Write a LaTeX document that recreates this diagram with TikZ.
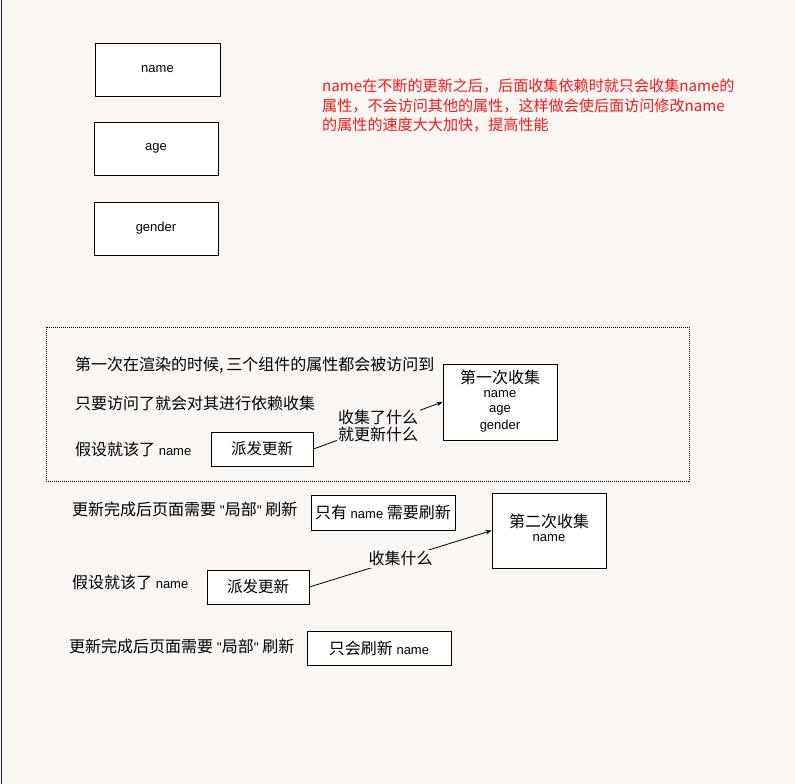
\documentclass[tikz,border=0pt]{standalone}
\usepackage{fontspec}
\setmainfont{Noto Sans CJK SC}
\newfontfamily\latf{Liberation Sans}
\usetikzlibrary{arrows.meta}
\definecolor{bg}{RGB}{249,246,244}
\definecolor{redtxt}{RGB}{250,25,25}
\definecolor{edgec}{RGB}{25,30,45}
\newcommand{\latname}{{\latf\fontsize{13}{15}\selectfont name}}
\newcommand{\dq}{{\latf\fontsize{14}{15}\selectfont "}}
\begin{document}
\begin{tikzpicture}[x=1pt,y=-1pt,
  box/.style={draw=black,fill=white,line width=0.9pt,inner sep=0pt},
  cjk/.style={font=\fontsize{16}{19}\selectfont,inner sep=0pt,anchor=west},
  small/.style={font=\latf\fontsize{13}{15}\selectfont,inner sep=0pt},
  conn/.style={line width=0.8pt,-{Stealth[length=6pt,width=4.5pt]}},
  lab/.style={fill=bg,inner sep=1.5pt,align=center,font=\fontsize{16}{17}\selectfont}
]
\fill[bg] (0,0) rectangle (795,784);
\useasboundingbox (0,0) rectangle (795,784);
\draw[edgec,line width=1.6pt] (1.5,0) -- (1.5,784);

% top boxes
\node[box,minimum width=125pt,minimum height=53pt,small] (bname) at (157.5,69.5) {name};
\node[box,minimum width=124pt,minimum height=53pt,small] (bage) at (156,148.5) {age};
\node[box,minimum width=124pt,minimum height=53pt,small] (bgender) at (156,228.5) {gender};

% red note
\node[text=redtxt,anchor=north west,inner sep=0pt,align=left,font=\fontsize{15.1}{19.6}\selectfont] (note) at (322,78.5)
{name在不断的更新之后，后面收集依赖时就只会收集name的\\属性，不会访问其他的属性，这样做会使后面访问修改name\\的属性的速度大大加快，提高性能};

% dotted frame
\draw[line width=0.8pt,dash pattern=on 1pt off 1pt] (46,327) rectangle (689,481);

\node[cjk] (t1) at (75,365) {第一次在渲染的时候,\,三个组件的属性都会被访问到};
\node[cjk] (t2) at (75,403) {只要访问了就会对其进行依赖收集};
\node[cjk] (t3) at (75,449) {假设就该了 \latname};

\node[box,minimum width=102pt,minimum height=34pt,font=\fontsize{15.5}{18}\selectfont] (d1) at (262,449) {派发更新};
\node[box,minimum width=114pt,minimum height=76pt] (c1) at (500,402) {};
\node[inner sep=0pt,font=\fontsize{16}{18}\selectfont] (c1a) at (500,377) {第一次收集};
\node[small] (c1b) at (500,394.5) {name};
\node[small] (c1c) at (500,410.5) {age};
\node[small] (c1d) at (500,426.5) {gender};
\draw[conn] (d1.east) -- node[lab] (l1) {收集了什么\\就更新什么} (c1.west);

% second part
\node[cjk] (t4) at (72,509) {更新完成后页面需要 \dq{}局部\dq{} 刷新};
\node[box,minimum width=144pt,minimum height=35pt,font=\fontsize{16}{18}\selectfont] (r1) at (383,512.5) {只有 \latname{} 需要刷新};
\node[box,minimum width=114pt,minimum height=75pt] (c2) at (549,530.5) {};
\node[inner sep=0pt,font=\fontsize{16}{18}\selectfont] (c2a) at (549,521) {第二次收集};
\node[small] (c2b) at (549,538.5) {name};

\node[cjk] (t5) at (72,582) {假设就该了 \latname};
\node[box,minimum width=102pt,minimum height=34pt,font=\fontsize{15.5}{18}\selectfont] (d2) at (258,587) {派发更新};
\draw[conn] (d2.east) -- node[lab] (l2) {收集什么} (c2.west);

\node[cjk] (t6) at (69,646) {更新完成后页面需要 \dq{}局部\dq{} 刷新};
\node[box,minimum width=144pt,minimum height=34pt,font=\fontsize{16}{18}\selectfont] (r2) at (379,648) {只会刷新 \latname};
\end{tikzpicture}
\end{document}
